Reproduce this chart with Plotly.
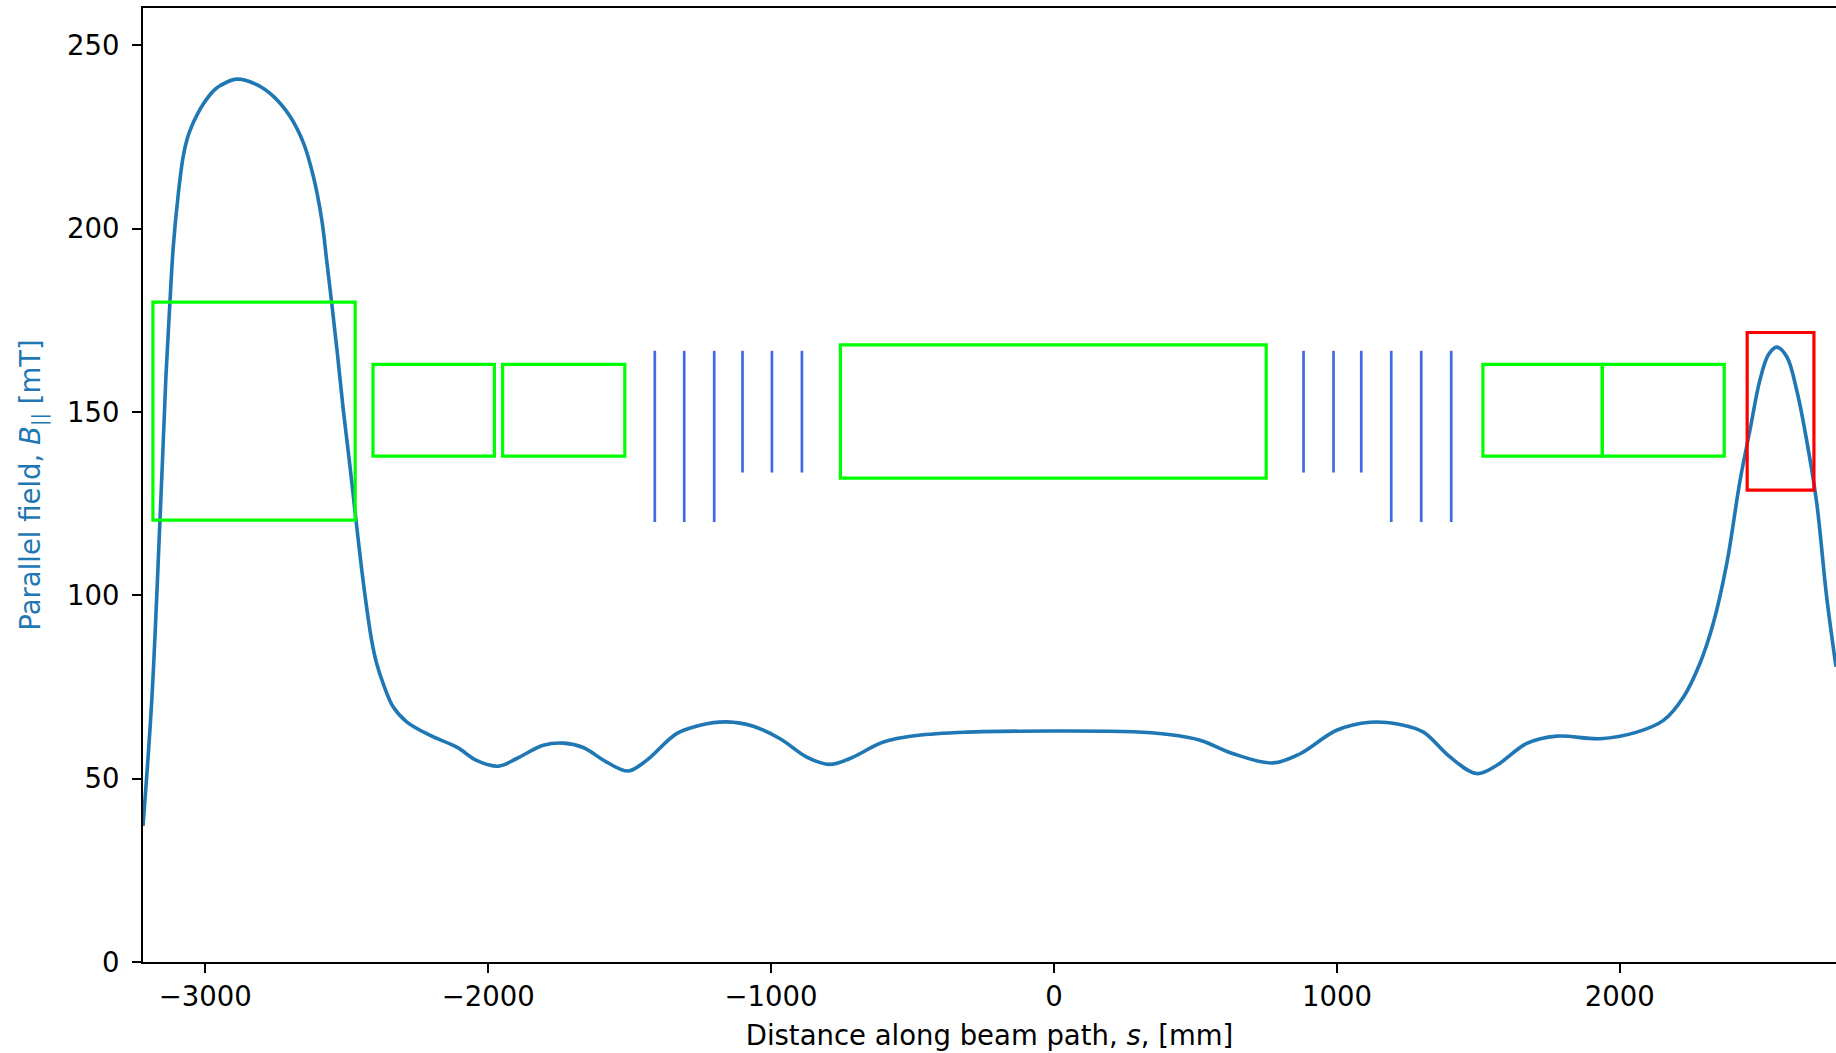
import plotly.graph_objects as go

# ---- data -------------------------------------------------------------
s_mm = [-3220, -3189, -3160, -3139, -3125, -3113, -3095, -3078, -3064, -3048,
        -3030, -3007, -2971, -2948, -2889, -2818, -2759, -2700, -2653, -2618,
        -2588, -2571, -2553, -2533, -2512, -2491, -2442, -2412, -2394, -2371,
        -2336, -2288, -2205, -2111, -2041, -1964, -1899, -1805, -1734, -1664,
        -1581, -1505, -1440, -1334, -1251, -1157, -1063, -968, -874, -792,
        -721, -603, -485, -309, -14, 280, 398, 516, 634, 775,
        870, 999, 1117, 1235, 1306, 1400, 1494, 1564, 1671, 1777,
        1930, 2060, 2154, 2225, 2283, 2330, 2378, 2425, 2460, 2495,
        2525, 2554, 2590, 2625, 2660, 2696, 2731, 2764]
b_mT = [37.1, 71.4, 120.5, 159.7, 179.7, 195.1, 209.7, 219.7, 224.5, 227.9,
        230.9, 234.0, 237.6, 239.0, 240.8, 239.3, 236.1, 230.6, 223.4, 214.3,
        202.4, 191.5, 179.7, 166.0, 150.6, 136.9, 104.0, 87.8, 81.4, 75.9,
        69.6, 65.5, 61.8, 58.6, 55.0, 53.4, 55.5, 59.1, 59.7, 58.5,
        54.5, 52.1, 55.0, 62.3, 64.6, 65.5, 64.3, 60.9, 55.9, 53.9,
        55.5, 60.0, 61.8, 62.7, 63.0, 62.8, 62.1, 60.5, 56.8, 54.3,
        56.8, 63.2, 65.4, 64.6, 62.7, 55.9, 51.4, 53.6, 59.6, 61.6,
        60.9, 62.7, 65.9, 72.3, 81.4, 92.3, 108.7, 131.4, 145.1, 158.7,
        165.6, 167.7, 165.1, 156.0, 142.4, 125.1, 99.6, 80.5]

# green element boxes: (s_start, s_end, b_low, b_high)
green_x0 = [-3185, -2407, -1949, -755, 1516, 1938]
green_x1 = [-2470, -1978, -1517, 750, 1938, 2369]
green_y0 = [120.5, 138, 138, 132, 138, 138]
green_y1 = [180, 163, 163, 168.3, 163, 163]

# red element box
red_x0, red_x1, red_y0, red_y1 = 2450, 2686, 128.7, 171.7

# blue vertical markers
blue_x = [-1411, -1307, -1201, -1101, -997, -891, 882, 988, 1086, 1192, 1298, 1404]
blue_y0 = [120, 120, 120, 133.5, 133.5, 133.5, 133.5, 133.5, 133.5, 120, 120, 120]
blue_y1 = [166.7] * 12

x_ticks = [-3000, -2000, -1000, 0, 1000, 2000]
x_ticktext = ["\u22123000", "\u22122000", "\u22121000", "0", "1000", "2000"]
y_ticks = [0, 50, 100, 150, 200, 250]

x_range = [-3220, 2764]
y_range = [0, 260.2]

# ---- figure -----------------------------------------------------------
FONT = "DejaVu Sans"
FS = 27.5
fig = go.Figure()
fig.add_trace(go.Scatter(x=s_mm, y=b_mT, mode="lines",
                         line=dict(color="#1f77b4", width=3.6, shape="spline", smoothing=1.0),
                         showlegend=False, hoverinfo="skip"))

shapes = []
for x0, x1, y0, y1 in zip(green_x0, green_x1, green_y0, green_y1):
    shapes.append(dict(type="rect", xref="x", yref="y", x0=x0, x1=x1, y0=y0, y1=y1,
                       line=dict(color="#00ff00", width=3.2), fillcolor="rgba(0,0,0,0)"))
shapes.append(dict(type="rect", xref="x", yref="y", x0=red_x0, x1=red_x1, y0=red_y0, y1=red_y1,
                   line=dict(color="#ff0000", width=3.2), fillcolor="rgba(0,0,0,0)"))
for x, y0, y1 in zip(blue_x, blue_y0, blue_y1):
    shapes.append(dict(type="line", xref="x", yref="y", x0=x, x1=x, y0=y0, y1=y1,
                       line=dict(color="#4169e1", width=2.7)))

fig.update_layout(
    width=1836, height=1053,
    margin=dict(l=143, r=0, t=8, b=91),
    paper_bgcolor="white", plot_bgcolor="white",
    font=dict(family=FONT, size=FS, color="black"),
    shapes=shapes,
    xaxis=dict(range=x_range, tickvals=x_ticks, ticktext=x_ticktext,
               showgrid=False, zeroline=False, showline=True, linecolor="black",
               linewidth=2, mirror=True, ticks="outside", ticklen=9, tickwidth=2,
               tickcolor="black", tickfont=dict(size=FS, family=FONT),
               title=dict(text="Distance along beam path, <i>s</i>, [mm]",
                          font=dict(size=FS, family=FONT), standoff=15)),
    yaxis=dict(range=y_range, tickvals=y_ticks,
               showgrid=False, zeroline=False, showline=True, linecolor="black",
               linewidth=2, ticks="outside", ticklen=9, tickwidth=2,
               tickcolor="black", tickfont=dict(size=FS, family=FONT),
               ticklabelstandoff=7,
               title=dict(text="Parallel field, <i>B</i><sub>||</sub> [mT]",
                          font=dict(size=FS, family=FONT, color="#1f77b4"), standoff=18)),
)

fig.write_html("out.html")
